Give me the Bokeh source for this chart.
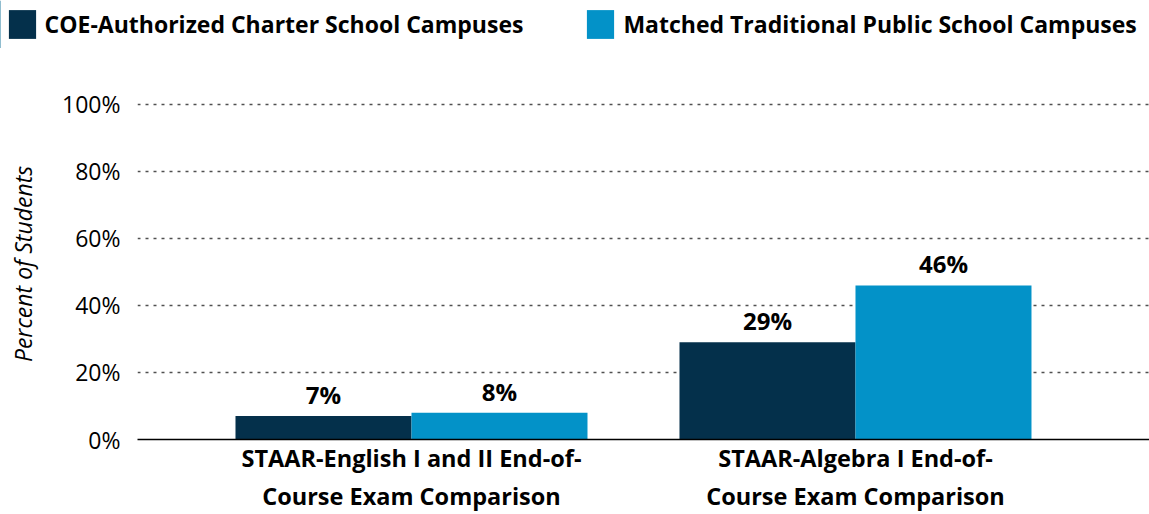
from bokeh.plotting import figure
from bokeh.layouts import column, row
from bokeh.models import ColumnDataSource, Legend, LegendItem, FixedTicker, Range1d
from bokeh.transform import dodge
from bokeh.embed import file_html
from bokeh.resources import INLINE

categories = ["STAAR-English I and II End-of-\nCourse Exam Comparison",
              "STAAR-Algebra I End-of-\nCourse Exam Comparison"]
series_names = ["COE-Authorized Charter School Campuses",
                "Matched Traditional Public School Campuses"]
charter = [7, 29]
traditional = [8, 46]
y_ticks = [0, 20, 40, 60, 80, 100]
y_tick_labels = ["0%", "20%", "40%", "60%", "80%", "100%"]

DARK = "#04304B"
LIGHT = "#0392C8"
FONT = "Open Sans"

xs = list(range(len(categories)))
src = ColumnDataSource(dict(
    x=xs,
    charter=charter,
    traditional=traditional,
    charter_lbl=[f"{v}%" for v in charter],
    traditional_lbl=[f"{v}%" for v in traditional],
))

W = 1149
LEG_H = 48
MAIN_H = 466

p = figure(width=W, height=MAIN_H, output_backend="svg", toolbar_location=None,
           x_range=Range1d(-0.6171, 1.6622), y_range=Range1d(0, 104.76),
           min_border_left=137, min_border_right=0, min_border_top=40,
           min_border_bottom=74)
p.outline_line_color = None
p.background_fill_color = "white"
p.border_fill_color = "white"

bw = 0.3964
r1 = p.vbar(x=dodge("x", -bw / 2, range=p.x_range), top="charter", width=bw,
            source=src, fill_color=DARK, line_color=None)
r2 = p.vbar(x=dodge("x", bw / 2, range=p.x_range), top="traditional", width=bw,
            source=src, fill_color=LIGHT, line_color=None)

for col, off in (("charter", -bw / 2), ("traditional", bw / 2)):
    p.text(x=dodge("x", off, range=p.x_range), y=col, text=col + "_lbl", source=src,
           y_offset=-5, text_align="center", text_baseline="bottom",
           text_font_size="24px", text_font_style="bold", text_color="black",
           text_font={"value": FONT})

p.xaxis.ticker = FixedTicker(ticks=xs)
p.xaxis.major_label_overrides = {i: c for i, c in enumerate(categories)}
p.xaxis.major_label_text_font = FONT
p.xaxis.major_label_text_font_size = "23.5px"
p.xaxis.major_label_text_font_style = "bold"
p.xaxis.major_label_text_color = "black"
p.xaxis.major_label_standoff = -4
p.xaxis.major_tick_line_color = None
p.xaxis.minor_tick_line_color = None
p.xaxis.axis_line_color = "black"
p.xaxis.axis_line_width = 1.5

p.yaxis.ticker = FixedTicker(ticks=y_ticks)
p.yaxis.major_label_overrides = {t: l for t, l in zip(y_ticks, y_tick_labels)}
p.yaxis.major_label_text_font = FONT
p.yaxis.major_label_text_font_size = "23px"
p.yaxis.major_label_text_color = "black"
p.yaxis.major_label_standoff = 11
p.yaxis.major_tick_line_color = None
p.yaxis.minor_tick_line_color = None
p.yaxis.axis_line_color = None
p.yaxis.axis_label = "Percent of Students"
p.yaxis.axis_label_text_font = FONT
p.yaxis.axis_label_text_font_size = "23px"
p.yaxis.axis_label_text_font_style = "italic"
p.yaxis.axis_label_text_color = "black"
p.yaxis.axis_label_standoff = 20

p.xgrid.grid_line_color = None
p.ygrid.grid_line_color = "#505050"
p.ygrid.grid_line_dash = "3 5"
p.ygrid.grid_line_width = 1.5

lf = figure(width=W, height=LEG_H, output_backend="svg", toolbar_location=None,
            x_range=Range1d(10, 11), y_range=Range1d(10, 11),
            x_axis_location=None, y_axis_location=None,
            min_border_left=0, min_border_right=0, min_border_top=0,
            min_border_bottom=0)
lf.outline_line_color = None
lf.border_fill_color = "white"
lf.grid.grid_line_color = None
l1 = lf.vbar(x="x", top="charter", width=bw, source=src, fill_color=DARK, line_color=None)
l2 = lf.vbar(x="x", top="traditional", width=bw, source=src, fill_color=LIGHT, line_color=None)

legend = Legend(items=[LegendItem(label=series_names[0], renderers=[l1]),
                       LegendItem(label=series_names[1], renderers=[l2])],
                orientation="horizontal", location=(4.6, LEG_H - 6.4 - 36),
                glyph_width=34, glyph_height=36, spacing=60,
                label_text_font=FONT, label_text_font_size="23px",
                label_text_font_style="bold", label_text_color="black",
                label_standoff=6, padding=0, margin=0,
                border_line_color=None, background_fill_alpha=0)
lf.add_layout(legend, "center")

layout = column(row(lf, spacing=0), p, spacing=0)
open("out.html", "w").write(file_html(layout, INLINE))
